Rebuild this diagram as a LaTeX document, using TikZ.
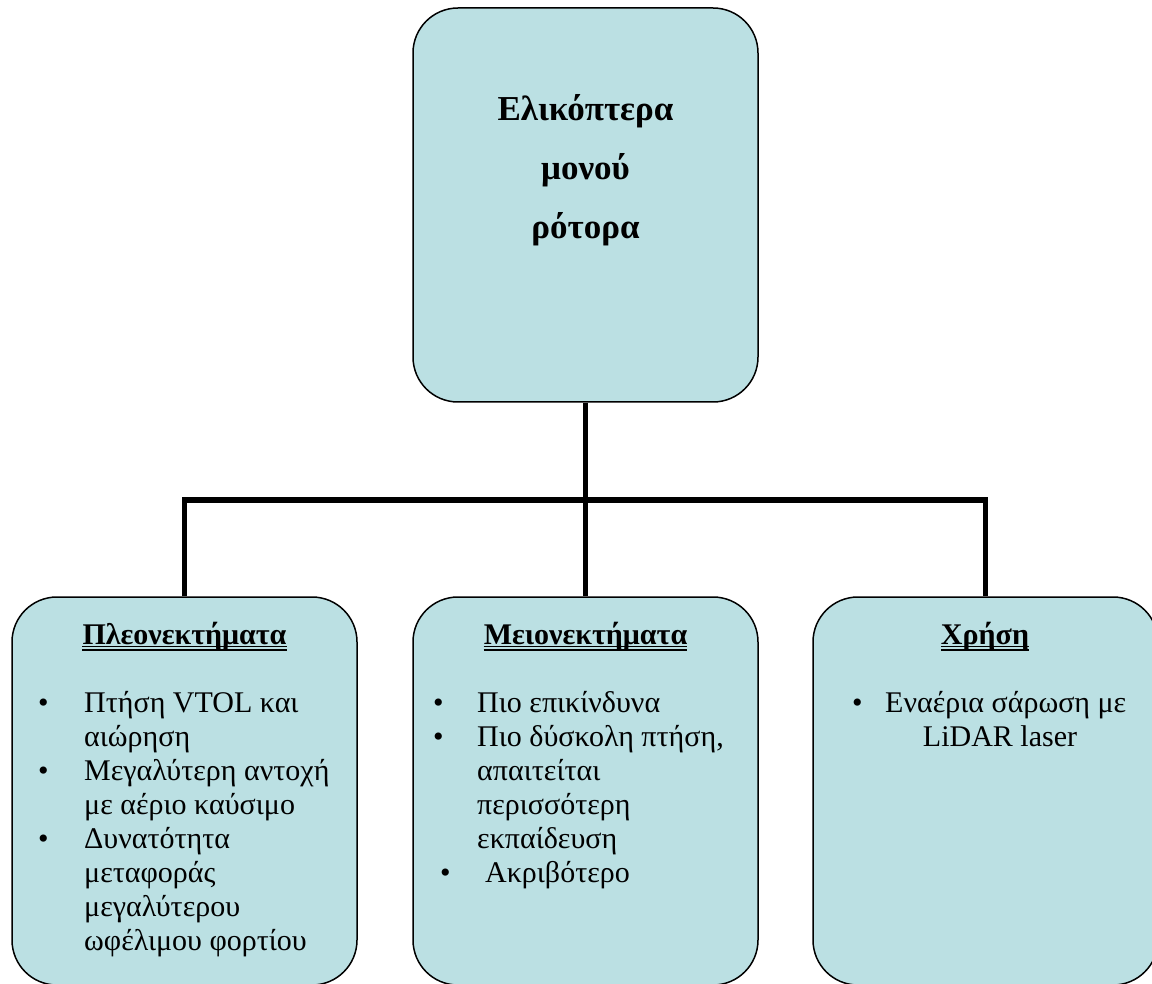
\documentclass[tikz,border=0pt]{standalone}
\usepackage{fontspec}
\setmainfont{Liberation Serif}
\usepackage{array}
\definecolor{boxfill}{RGB}{187,224,227}
\tikzset{
  panel/.style={draw=black, line width=1.5pt, fill=boxfill, rounded corners=45pt,
    minimum width=345pt, inner sep=0pt},
  conn/.style={draw=black, line width=5.5pt},
  title/.style={font=\bfseries\fontsize{35}{59}\selectfont, anchor=base, inner sep=0pt},
  heading/.style={font=\bfseries\fontsize{30}{34}\selectfont, anchor=base, inner sep=0pt},
  body/.style={font=\fontsize{30}{34}\selectfont, anchor=base west, inner sep=0pt},
  uline/.style={draw=black, line width=1.3pt},
}
\begin{document}
\begin{tikzpicture}[x=1pt, y=-1pt]
  \useasboundingbox (0,0) rectangle (1152,984);
  \fill[white] (0,0) rectangle (1152,984);
  \clip (0,0) rectangle (1152,984);

  % boxes
  \node[panel, minimum height=394pt] (top) at (585.5,205) {};
  \node[panel, minimum height=388pt] (adv) at (184.5,791) {};
  \node[panel, minimum height=388pt] (dis) at (585.5,791) {};
  \node[panel, minimum height=388pt] (use) at (985.5,791) {};

  % tree connectors
  \coordinate (hub) at (585.5,500);
  \draw[conn] (top.south) -- (dis.north);
  \draw[conn] (adv.north) |- (hub) -| (use.north);

  % root title
  \node[title] (rootlbl) at (585.5,121)
    {\begin{tabular}[t]{@{}c@{}}Ελικόπτερα\\ μονού\\ ρότορα\end{tabular}};

  % headings with double underline
  \node[heading] (h1) at (184.5,644) {Πλεονεκτήματα};
  \node[heading] (h2) at (585.5,644) {Μειονεκτήματα};
  \node[heading] (h3) at (985,644) {Χρήση};
  \foreach \h in {h1,h2,h3}{
    \draw[uline] ([yshift=-2.5pt]\h.base west) -- ([yshift=-2.5pt]\h.base east);
    \draw[uline] ([yshift=-6pt]\h.base west) -- ([yshift=-6pt]\h.base east);
  }

  % advantages
  \node[body] (advlist) at (38,712) {\begin{tabular}[t]{@{}p{46pt}@{}l@{}}
    \textbullet & Πτήση VTOL και\\
                & αιώρηση\\
    \textbullet & Μεγαλύτερη αντοχή\\
                & με αέριο καύσιμο\\
    \textbullet & Δυνατότητα\\
                & μεταφοράς\\
                & μεγαλύτερου\\
                & ωφέλιμου φορτίου
  \end{tabular}};

  % disadvantages
  \node[body] (dislist) at (433,712) {\begin{tabular}[t]{@{}p{44pt}@{}l@{}}
    \textbullet & Πιο επικίνδυνα\\
    \textbullet & Πιο δύσκολη πτήση,\\
                & απαιτείται\\
                & περισσότερη\\
                & εκπαίδευση\\
    \hspace*{7pt}\textbullet & \hspace*{8pt}Ακριβότερο
  \end{tabular}};

  % use
  \node[body] (usebul) at (852,712) {\textbullet};
  \node[body] (usel1) at (885,712) {Εναέρια σάρωση με};
  \node[body, anchor=base] (usel2) at (1000,746) {LiDAR laser};
\end{tikzpicture}
\end{document}
